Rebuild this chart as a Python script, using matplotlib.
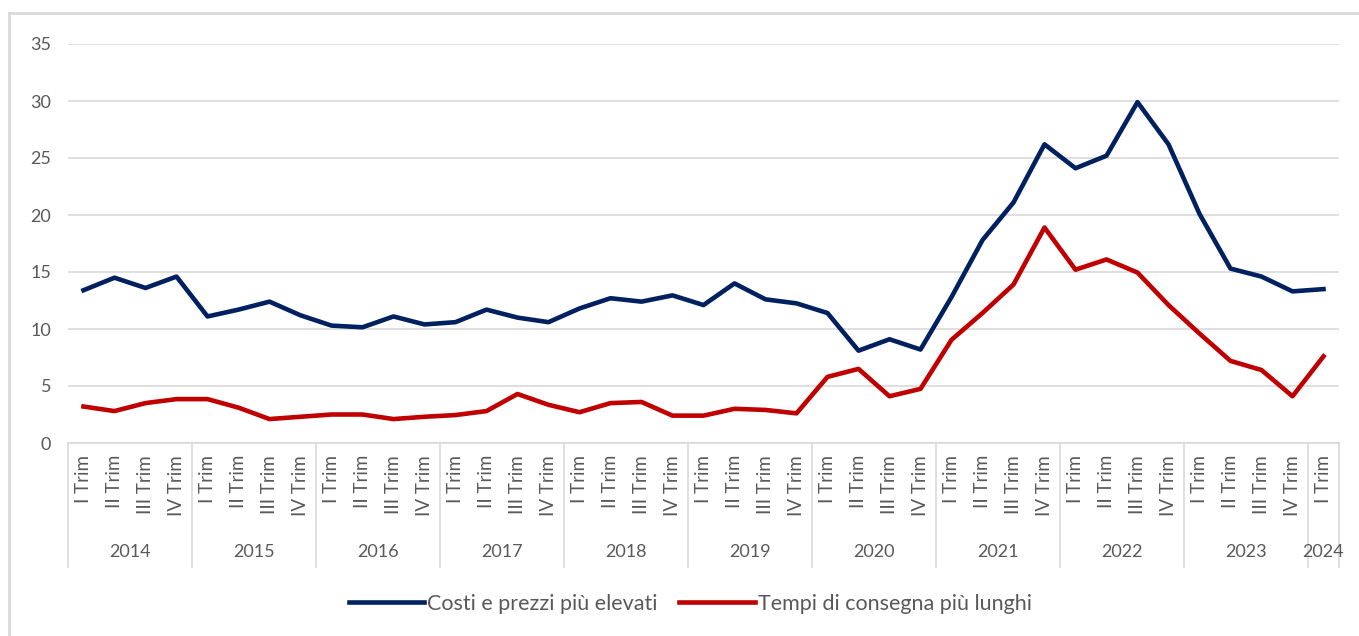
import numpy as np
import matplotlib.pyplot as plt
from matplotlib.lines import Line2D
import matplotlib.transforms as mtransforms

plt.rcParams['font.family'] = ['Lato', 'DejaVu Sans']

# Data: quarterly values 2014 Q1 - 2024 Q1
years = ['2014', '2015', '2016', '2017', '2018', '2019', '2020', '2021', '2022', '2023', '2024']
quarters = ['I Trim', 'II Trim', 'III Trim', 'IV Trim']
n_quarters_last = 1

costi = [13.4, 14.5, 13.6, 14.6,
         11.1, 11.7, 12.4, 11.2,
         10.3, 10.15, 11.1, 10.4,
         10.6, 11.7, 11.0, 10.6,
         11.8, 12.7, 12.4, 12.95,
         12.1, 14.0, 12.6, 12.25,
         11.4, 8.1, 9.1, 8.2,
         12.8, 17.8, 21.1, 26.2,
         24.1, 25.2, 29.9, 26.2,
         20.1, 15.3, 14.6, 13.3,
         13.5]
tempi = [3.2, 2.8, 3.5, 3.85,
         3.85, 3.1, 2.1, 2.3,
         2.5, 2.5, 2.1, 2.3,
         2.45, 2.8, 4.3, 3.35,
         2.7, 3.5, 3.6, 2.4,
         2.4, 3.0, 2.9, 2.6,
         5.8, 6.5, 4.1, 4.75,
         9.05, 11.4, 13.9, 18.9,
         15.2, 16.1, 14.95, 12.1,
         9.6, 7.2, 6.4, 4.1,
         7.6]

labels = []
for y in years[:-1]:
    labels += quarters
labels += quarters[:n_quarters_last]
x = np.arange(len(costi))

grey = '#595959'
fig = plt.figure(figsize=(13.59, 6.36), dpi=100)
ax = fig.add_axes([68/1359, 1-443/636, (1339-68)/1359, (443-44)/636])

ax.plot(x, costi, color='#002060', lw=3.3, label='Costi e prezzi più elevati', solid_joinstyle='round')
ax.plot(x, tempi, color='#C00000', lw=3.3, label='Tempi di consegna più lunghi', solid_joinstyle='round')

ax.set_xlim(-0.5, len(x) - 0.5)
ax.set_ylim(0, 35)
ax.set_yticks(np.arange(0, 36, 5))
ax.tick_params(axis='y', length=0, pad=12, labelsize=13, labelcolor=grey)
ax.set_xticks([])
ax.grid(axis='y', color='#d9d9d9', lw=1.2)
ax.set_axisbelow(True)
for s in ['left', 'right', 'top']:
    ax.spines[s].set_visible(False)
ax.spines['bottom'].set_color('#d9d9d9')
ax.spines['bottom'].set_linewidth(1.2)

# multi-level category axis
trans = mtransforms.blended_transform_factory(ax.transData, ax.transAxes)
for i, lab in enumerate(labels):
    ax.text(i, -0.03, lab, rotation=90, ha='center', va='top', fontsize=13.5,
            color=grey, transform=trans)
bounds = [-0.5]
pos = -0.5
for k, y in enumerate(years):
    n = 4 if k < len(years) - 1 else n_quarters_last
    ax.text(pos + n / 2, -0.273, y, ha='center', va='center', fontsize=13,
            color=grey, transform=trans)
    pos += n
    bounds.append(pos)
for b in bounds:
    ax.plot([b, b], [0, -0.311], color='#d9d9d9', lw=1.2, transform=trans, clip_on=False)

fig.legend(loc='center', bbox_to_anchor=(0.508, 1-604/636), ncol=2, frameon=False,
           fontsize=15.5, handlelength=3.5, handletextpad=0.15, columnspacing=1.0,
           labelcolor=grey)

# chart area border (partially visible)
fig.add_artist(Line2D([9/1359, 1], [1-13/636, 1-13/636], color='#d9d9d9', lw=2, transform=fig.transFigure))
fig.add_artist(Line2D([9/1359, 9/1359], [0, 1-13/636], color='#d9d9d9', lw=2, transform=fig.transFigure))

fig.savefig('out.png', dpi=100, facecolor='white')
